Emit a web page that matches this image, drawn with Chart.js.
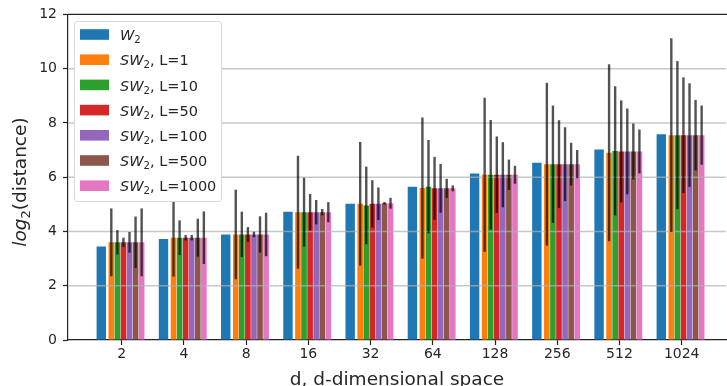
<!DOCTYPE html>
<html>
<head>
<meta charset="utf-8">
<script src="https://cdn.jsdelivr.net/npm/chart.js@4.4.1/dist/chart.umd.min.js"></script>
<style>
  html, body { margin: 0; padding: 0; background: #fff; overflow: hidden; }
</style>
</head>
<body>
<canvas id="chart" width="727" height="386"></canvas>
<script>
// d values on the x axis
const dims = ['2', '4', '8', '16', '32', '64', '128', '256', '512', '1024']

// mean log2(distance) per d
const w2 = [3.45, 3.72, 3.89, 4.73, 5.02, 5.65, 6.14, 6.53, 7.02, 7.58]
const sw1 = [3.6, 3.77, 3.89, 4.71, 5.02, 5.6, 6.09, 6.48, 6.9, 7.55]
const sw10 = [3.6, 3.77, 3.89, 4.71, 4.96, 5.65, 6.09, 6.48, 6.97, 7.55]
const sw50 = [3.6, 3.77, 3.89, 4.71, 5.02, 5.59, 6.09, 6.48, 6.95, 7.55]
const sw100 = [3.6, 3.77, 3.89, 4.71, 5.02, 5.59, 6.09, 6.48, 6.95, 7.55]
const sw500 = [3.6, 3.77, 3.89, 4.71, 5.04, 5.59, 6.09, 6.48, 6.95, 7.55]
const sw1000 = [3.6, 3.77, 3.89, 4.71, 5.04, 5.59, 6.09, 6.48, 6.95, 7.55]

// half length of the error bars
const sw1Err = [1.25, 1.43, 1.65, 2.08, 2.28, 2.6, 2.84, 3.0, 3.26, 3.57]
const sw10Err = [0.45, 0.64, 0.84, 1.27, 1.43, 1.72, 2.02, 2.16, 2.38, 2.73]
const sw50Err = [0.17, 0.1, 0.27, 0.67, 0.87, 1.16, 1.41, 1.62, 1.88, 2.13]
const sw100Err = [0.38, 0.1, 0.1, 0.45, 0.6, 0.9, 1.2, 1.36, 1.58, 1.91]
const sw500Err = [0.95, 0.7, 0.67, 0.12, 0.05, 0.35, 0.56, 0.79, 1.03, 1.3]
const sw1000Err = [1.25, 0.97, 0.8, 0.37, 0.2, 0.11, 0.33, 0.52, 0.81, 1.09]

const swLs = ['1', '10', '50', '100', '500', '1000']
const swMeans = [sw1, sw10, sw50, sw100, sw500, sw1000]
const swErrs = [sw1Err, sw10Err, sw50Err, sw100Err, sw500Err, sw1000Err]

const colors = ['#1f77b4', '#ff7f0e', '#2ca02c', '#d62728', '#9467bd', '#8c564b', '#e377c2']

// where the bars sit inside one group (category units)
const W2_OFF = -0.328
const SW_OFF = -0.167
const SW_STEP = 0.0975

const FONT = '"DejaVu Sans"'
const TEXT = '#262626'

const datasets = [
  {
    label: 'W2',
    data: w2.map((v, i) => ({ x: i + W2_OFF, y: v })),
    backgroundColor: colors[0],
    barPercentage: 1.55,
  },
].concat(
  swMeans.map((m, k) => ({
    label: 'SW2, L=' + swLs[k],
    data: m.map((v, i) => ({ x: i + SW_OFF + k * SW_STEP, y: v })),
    backgroundColor: colors[k + 1],
    barPercentage: 0.93,
    err: swErrs[k],
  })),
)

// text like "SW" italic + subscript "2" + plain rest
function mathText(ctx, x, y, main, sub, rest, size) {
  ctx.font = `italic ${size}px ${FONT}`
  ctx.fillText(main, x, y)
  x += ctx.measureText(main).width
  ctx.font = `${size * 0.7}px ${FONT}`
  ctx.fillText(sub, x, y + size * 0.22)
  x += ctx.measureText(sub).width
  ctx.font = `${size}px ${FONT}`
  ctx.fillText(rest, x, y)
}

function mathWidth(ctx, main, sub, rest, size) {
  ctx.font = `italic ${size}px ${FONT}`
  let w = ctx.measureText(main).width
  ctx.font = `${size * 0.7}px ${FONT}`
  w += ctx.measureText(sub).width
  ctx.font = `${size}px ${FONT}`
  return w + ctx.measureText(rest).width
}

const decor = {
  id: 'decor',
  afterDatasetsDraw(chart) {
    const { ctx, chartArea: a, scales: { y } } = chart
    ctx.save()
    // grid sits above the bars, below the error bars
    ctx.strokeStyle = 'rgba(176,176,176,0.7)'
    ctx.lineWidth = 1.5
    y.ticks.forEach((t) => {
      if (t.value <= 0 || t.value >= 12) return
      const py = y.getPixelForValue(t.value)
      ctx.beginPath()
      ctx.moveTo(a.left, py)
      ctx.lineTo(a.right, py)
      ctx.stroke()
    })

    ctx.strokeStyle = 'rgba(0,0,0,0.68)'
    ctx.lineWidth = 2.4
    chart.data.datasets.forEach((ds, di) => {
      if (!ds.err) return
      chart.getDatasetMeta(di).data.forEach((bar, i) => {
        const m = ds.data[i].y
        const e = ds.err[i]
        ctx.beginPath()
        ctx.moveTo(bar.x, y.getPixelForValue(m + e))
        ctx.lineTo(bar.x, y.getPixelForValue(m - e))
        ctx.stroke()
      })
    })

    // top spine
    ctx.strokeStyle = '#222'
    ctx.lineWidth = 1.2
    ctx.beginPath()
    ctx.moveTo(a.left, a.top)
    ctx.lineTo(a.right + 2, a.top)
    ctx.stroke()
    ctx.restore()
  },
  afterDraw(chart) {
    const { ctx } = chart
    ctx.save()

    // legend
    ctx.fillStyle = '#fff'
    ctx.strokeStyle = '#d8d8d8'
    ctx.lineWidth = 1
    ctx.beginPath()
    ctx.roundRect(74.5, 21.5, 147, 180, 3)
    ctx.fill()
    ctx.stroke()
    ctx.textBaseline = 'alphabetic'
    chart.data.datasets.forEach((ds, i) => {
      const cy = 34.5 + i * 25.2
      ctx.fillStyle = ds.backgroundColor
      ctx.fillRect(80, cy - 5.3, 29, 10.6)
      ctx.fillStyle = TEXT
      if (i === 0) mathText(ctx, 120, cy + 5.6, 'W', '2', '', 14.5)
      else mathText(ctx, 120, cy + 5.6, 'SW', '2', ', L=' + swLs[i - 1], 14.5)
    })

    // x axis title
    ctx.fillStyle = TEXT
    ctx.font = `18.5px ${FONT}`
    ctx.textAlign = 'center'
    ctx.fillText('d, d-dimensional space', 397, 385)

    // y axis title
    ctx.textAlign = 'left'
    ctx.translate(26, 182)
    ctx.rotate(-Math.PI / 2)
    const w = mathWidth(ctx, 'log', '2', '(distance)', 18.5)
    mathText(ctx, -w / 2, 0, 'log', '2', '(distance)', 18.5)
    ctx.restore()
  },
}

new Chart(document.getElementById('chart'), {
  type: 'bar',
  data: { datasets },
  options: {
    responsive: false,
    animation: false,
    datasets: { bar: { grouped: false, categoryPercentage: 1 } },
    layout: { padding: { top: 14, right: 1, left: 0, bottom: 0 } },
    plugins: { legend: { display: false }, tooltip: { enabled: false } },
    scales: {
      x: {
        type: 'linear',
        min: -0.863,
        max: 9.712,
        offset: false,
        afterBuildTicks: (s) => {
          s.ticks = dims.map((_, i) => ({ value: i }))
        },
        afterFit: (s) => {
          s.height = 46
        },
        ticks: {
          autoSkip: false,
          maxRotation: 0,
          padding: 1,
          color: TEXT,
          font: { family: 'DejaVu Sans', size: 14 },
          callback: (v) => dims[v],
        },
        grid: { offset: false, drawOnChartArea: false, tickLength: 5, tickColor: '#222', tickWidth: 1.2 },
        border: { color: '#222', width: 1.2 },
      },
      y: {
        min: 0,
        max: 12,
        afterFit: (s) => {
          s.width = 68
        },
        ticks: {
          stepSize: 2,
          padding: 6,
          color: TEXT,
          font: { family: 'DejaVu Sans', size: 14 },
        },
        grid: { drawOnChartArea: false, tickLength: 5, tickColor: '#222', tickWidth: 1.2 },
        border: { color: '#222', width: 1.2 },
      },
    },
  },
  plugins: [decor],
})
</script>
</body>
</html>
